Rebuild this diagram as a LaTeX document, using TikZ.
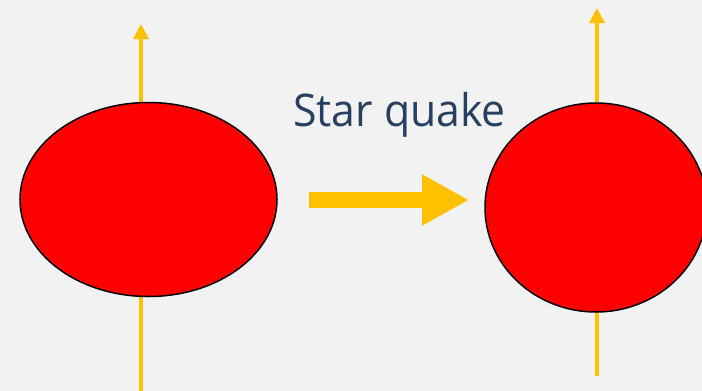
\documentclass[tikz,border=0pt]{standalone}
\usepackage{fontspec}
\setmainfont{Open Sans}
\usetikzlibrary{shapes.geometric,arrows.meta}
\definecolor{bg}{RGB}{242,242,242}
\definecolor{gold}{RGB}{255,192,0}
\definecolor{txt}{RGB}{40,64,96}
\tikzset{
  axis/.style={draw=gold,line width=4pt,-{Triangle[width=15pt,length=15pt]}},
  star/.style={ellipse,draw=black,line width=1.5pt,fill=red,inner sep=0pt},
  bigarrow/.style={draw=gold,line width=16pt,-{Triangle[width=48pt,length=47pt]}}
}
\begin{document}
\begin{tikzpicture}[x=1pt,y=-1pt]
\fill[bg] (0,0) rectangle (702,391);
\useasboundingbox (0,0) rectangle (702,391);
\coordinate (l1) at (141,391);
\coordinate (l2) at (141,24);
\coordinate (r1) at (597,376);
\coordinate (r2) at (597,8);
\draw[axis] (l1) -- (l2);
\draw[axis] (r1) -- (r2);
\node[star,minimum width=257pt,minimum height=194pt] (s1) at (148.5,199.5) {};
\begin{scope}
\clip (0,0) rectangle (702,391);
\node[star,minimum width=222pt,minimum height=209pt] (s2) at (596,207.5) {};
\end{scope}
\coordinate (a1) at (309,200);
\coordinate (a2) at (469,200);
\draw[bigarrow] (a1) -- (a2);
\node[text=txt,font=\fontsize{45}{54}\selectfont,anchor=base west,inner sep=0pt,xscale=0.95] (t) at (293,126) {Star quake};
\end{tikzpicture}
\end{document}
